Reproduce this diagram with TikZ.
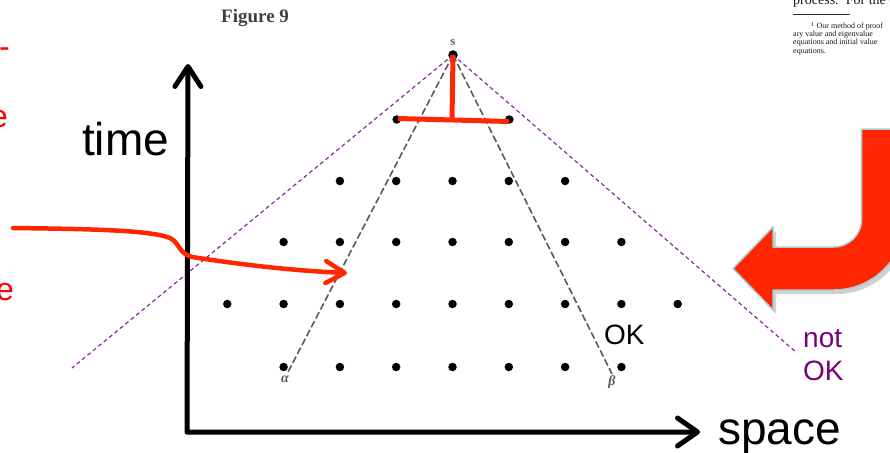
\documentclass[tikz,border=0pt]{standalone}
\usepackage{fontspec}
\setmainfont{Liberation Sans}
\newfontfamily\paperfont{Liberation Serif}
\usetikzlibrary{arrows.meta,positioning}
\definecolor{hotred}{RGB}{255,38,0}
\definecolor{notokpurple}{RGB}{120,0,120}
\definecolor{conepurple}{RGB}{140,40,160}
\definecolor{arrowrim}{RGB}{170,205,215}

\begin{document}
\begin{tikzpicture}[x=1pt, y=-1pt,
dot/.style={circle, fill=black, inner sep=0pt, minimum size=8.5pt},
axis/.style={line width=5pt, line cap=round, line join=round},
cone/.style={dash pattern=on 7pt off 3pt, line width=1.6pt, black!65},
light/.style={dash pattern=on 4pt off 3pt, line width=1.2pt, conepurple},
marker/.style={line width=5pt, hotred},
big/.style={font=\fontsize{46}{50}\selectfont, anchor=base west, inner sep=0pt},
remark/.style={font=\fontsize{28}{32}\selectfont, anchor=base west, inner sep=0pt},
cut/.style={font=\fontsize{32}{36}\selectfont, text=red, inner sep=0pt},
paper/.style={font=\paperfont\fontsize{8}{9}\selectfont, anchor=base west, inner sep=0pt, text=black!90},
greek/.style={font=\paperfont\itshape\bfseries\fontsize{14}{15}\selectfont, text=black!65, inner sep=0pt}
]
\useasboundingbox (0,0) rectangle (890,452);
\clip (0,0) rectangle (890,452);

% scanned page
\node[font=\paperfont\bfseries\fontsize{19}{22}\selectfont, text=black!75, anchor=base west, inner sep=0pt] (fig) at (221,22.5) {Figure 9};
\node[paper, font=\paperfont\fontsize{14}{15}\selectfont] (proc) at (793,5) {process.' For the case};
\coordinate (ruleL) at (793,15);
\coordinate (ruleR) at (850,15);
\draw[line width=1pt, black!80] (ruleL) -- (ruleR);
\node[paper] (fn1) at (811,29) {\textsuperscript{1} Our method of proof};
\node[paper] (fn2) at (793,37) {ary value and eigenvalue};
\node[paper] (fn3) at (793,45) {equations and initial value};
\node[paper] (fn4) at (793,53) {equations.};

% cut-off words at the left edge
\node[cut, anchor=base west] (hy) at (-1,57) {-};
\node[cut, anchor=base east] (e1) at (8,127) {e};
\node[cut, anchor=base east] (e2) at (14,300) {e};

% lattice
\node[dot, minimum size=9.5pt] (apex) at (453,55) {};
\node[font=\paperfont\bfseries\fontsize{13}{14}\selectfont, text=black!60, inner sep=0pt] (s) at (453,43) {s};
\foreach \k in {-1,1}
  \node[dot] (d0\k) at ({453+56.3*\k},119.5) {};
\foreach \row/\y/\kmin/\kmax in {1/181/-2/2, 2/242/-3/3, 3/304/-4/4, 4/367/-3/3}
  \foreach \k in {\kmin,...,\kmax}
    \node[dot] (d\row\k) at ({452.5+56.3*\k},\y) {};

\coordinate (aend) at (288,372);
\coordinate (bend) at (612,374);
\coordinate (lfar) at (72,368);
\coordinate (rfar) at (797,353);
\draw[cone] (apex.center) -- (aend);
\draw[cone] (apex.center) -- (bend);
\draw[light] (apex.center) -- (lfar);
\draw[light] (apex.center) -- (rfar);
\node[greek] (alpha) at (285,379) {α};
\node[greek] (beta) at (612,382) {β};

% red T
\coordinate (tfoot) at (452,120);
\coordinate (tleft) at (398,118.5);
\coordinate (tright) at (509,121.5);
\draw[marker] (apex.center) -- (tfoot);
\draw[marker] (tleft) -- (tright);

% axes
\coordinate (origin) at (187,432);
\coordinate (ytop) at (188,64);
\coordinate (xend) at (700,432);
\draw[axis, {Straight Barb[length=20pt, width=26pt, round]}-{Straight Barb[length=20pt, width=28pt, round]}] (ytop) -- (origin) -- (xend);
\node[big] (time) at (82,155) {time};
\node[big] (space) at (718,444) {space};

\node[remark] (ok) at (604,344) {OK};
\node[remark, text=notokpurple] (nt) at (803,347) {not};
\node[remark, text=notokpurple] (nok) at (803,380) {OK};

% red curved arrow
\coordinate (rstart) at (13,228);
\coordinate (rtip) at (347,273);
\draw[line width=4.5pt, hotred, line cap=round, -{Straight Barb[length=19pt, width=22pt, round]}]
  (rstart) .. controls (90,229) and (150,230) .. (170,238)
  .. controls (180,243) and (178,253) .. (192,257)
  .. controls (250,266) and (300,271) .. (rtip);

% big bent arrow
\fill[black, opacity=0.18] (736,272) -- (776,231) -- (776,251) -- (836.7,251)
  .. controls (852.2,251) and (864.7,238.5) .. (864.7,223) -- (864.7,133) -- (908,133) -- (908,223)
  .. controls (908,262.2) and (876.2,294) .. (837,294) -- (776,294) -- (776,314) -- cycle;
\draw[fill=hotred, draw=arrowrim, line width=1.5pt, line join=round]
  (733,268.5) -- (773,227) -- (773,247) -- (833.7,247)
  .. controls (849.2,247) and (861.7,234.5) .. (861.7,219) -- (861.7,129) -- (905,129) -- (905,219)
  .. controls (905,258.2) and (873.2,290) .. (834,290) -- (773,290) -- (773,310) -- cycle;

\end{tikzpicture}
\end{document}
